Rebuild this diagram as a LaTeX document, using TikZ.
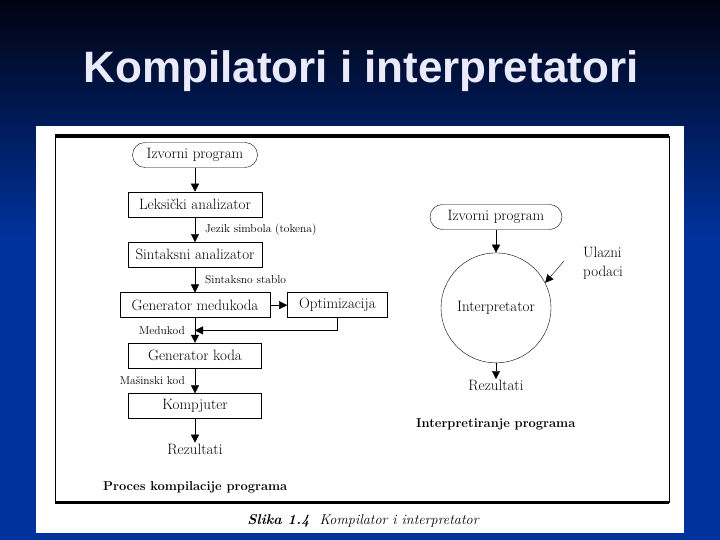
\documentclass[tikz,border=0pt]{standalone}
\usepackage{fontspec}
\newfontfamily\titlefont{Liberation Sans}
\usepackage{xcolor}
\usetikzlibrary{arrows.meta,positioning,calc}
\definecolor{slidetop}{RGB}{0,3,16}
\definecolor{slideblue}{RGB}{0,50,158}
\definecolor{titlecol}{RGB}{234,234,250}

\begin{document}
\begin{tikzpicture}[
    x=1pt, y=1pt,
    node distance=25pt,
    box/.style={rectangle, draw, thin, minimum height=25pt, inner sep=2pt, font=\fontsize{15}{17}\selectfont},
    term/.style={box, rounded corners=12.5pt},
    txt/.style={inner sep=1pt, font=\fontsize{15}{19}\selectfont},
    lbl/.style={inner sep=2pt, font=\fontsize{11.5}{13}\selectfont},
    subcap/.style={inner sep=0pt, anchor=west, font=\fontsize{12.9}{15}\selectfont\bfseries},
    arrow/.style={-{Triangle[length=8pt,width=8pt]}, thin}
]
    % Slide background
    \useasboundingbox (0,0) rectangle (720,540);
    \fill[slideblue] (0,0) rectangle (720,540);
    \shade[top color=slidetop, bottom color=slideblue] (0,540) rectangle (720,300);
    \fill[white] (36,7) rectangle (684,414);

    % Title
    \node[anchor=base, text=titlecol, font=\titlefont\fontsize{44}{52}\selectfont\bfseries] (title) at (361,457) {Kompilatori i interpretatori};

    % Frame
    \draw[thin] (55,37) -- (55,404);
    \draw[thin] (669,37) -- (669,404);
    \draw[line width=3.5pt] (55,404) -- (669,404);
    \draw[line width=3pt] (55,37) -- (669,37);

    % Compiler
    \node[term, minimum width=125pt] (src) at (195,385) {Izvorni program};
    \node[box, minimum width=134pt, below=24pt of src] (lex) {Leksički analizator};
    \node[box, minimum width=134pt, below=of lex] (syn) {Sintaksni analizator};
    \node[box, minimum width=150pt, below=of syn] (gen) {Generator medukoda};
    \node[box, minimum width=100pt, right=17pt of gen] (opt) {Optimizacija};
    \node[box, minimum width=133pt, below=of gen] (code) {Generator koda};
    \node[box, minimum width=133pt, below=of code] (comp) {Kompjuter};
    \node[txt, below=24pt of comp] (res) {Rezultati};
    \coordinate (join) at ($(gen.south)!0.5!(code.north)$);

    \draw[arrow] (src) -- (lex);
    \draw[arrow] (lex) -- (syn) node[lbl, midway, right=8pt] {Jezik simbola (tokena)};
    \draw[arrow] (syn) -- (gen) node[lbl, midway, right=8pt] {Sintaksno stablo};
    \draw[arrow] (gen) -- (opt);
    \draw[arrow] (gen) -- (code) node[lbl, midway, left=8pt] {Medukod};
    \draw[arrow] (opt.south) |- (join);
    \draw[arrow] (code) -- (comp) node[lbl, midway, left=8pt] {Mašinski kod};
    \draw[arrow] (comp) -- (res);

    \node[subcap] (compcap) at (103,53) {Proces kompilacije programa};

    % Interpreter
    \node[term, minimum width=132pt] (src2) at (496,323) {Izvorni program};
    \node[circle, draw, thin, minimum size=110pt, inner sep=0pt, below=23pt of src2, font=\fontsize{15}{17}\selectfont] (interp) {Interpretator};
    \node[txt, below=16pt of interp] (res2) {Rezultati};
    \node[txt, align=left, anchor=west] (input) at (582,277) {Ulazni\\podaci};

    \draw[arrow] (src2) -- (interp);
    \draw[arrow] (interp) -- (res2);
    \draw[arrow] ([xshift=-18pt,yshift=2pt]input.west) -- (interp.27);

    \node[subcap] (interpcap) at (416,116) {Interpretiranje programa};

    % Figure caption
    \node[inner sep=0pt, font=\fontsize{14.2}{16}\selectfont\itshape] (slika) at (363,19) {\textbf{Slika 1.4}\ \ Kompilator i interpretator};
\end{tikzpicture}
\end{document}
